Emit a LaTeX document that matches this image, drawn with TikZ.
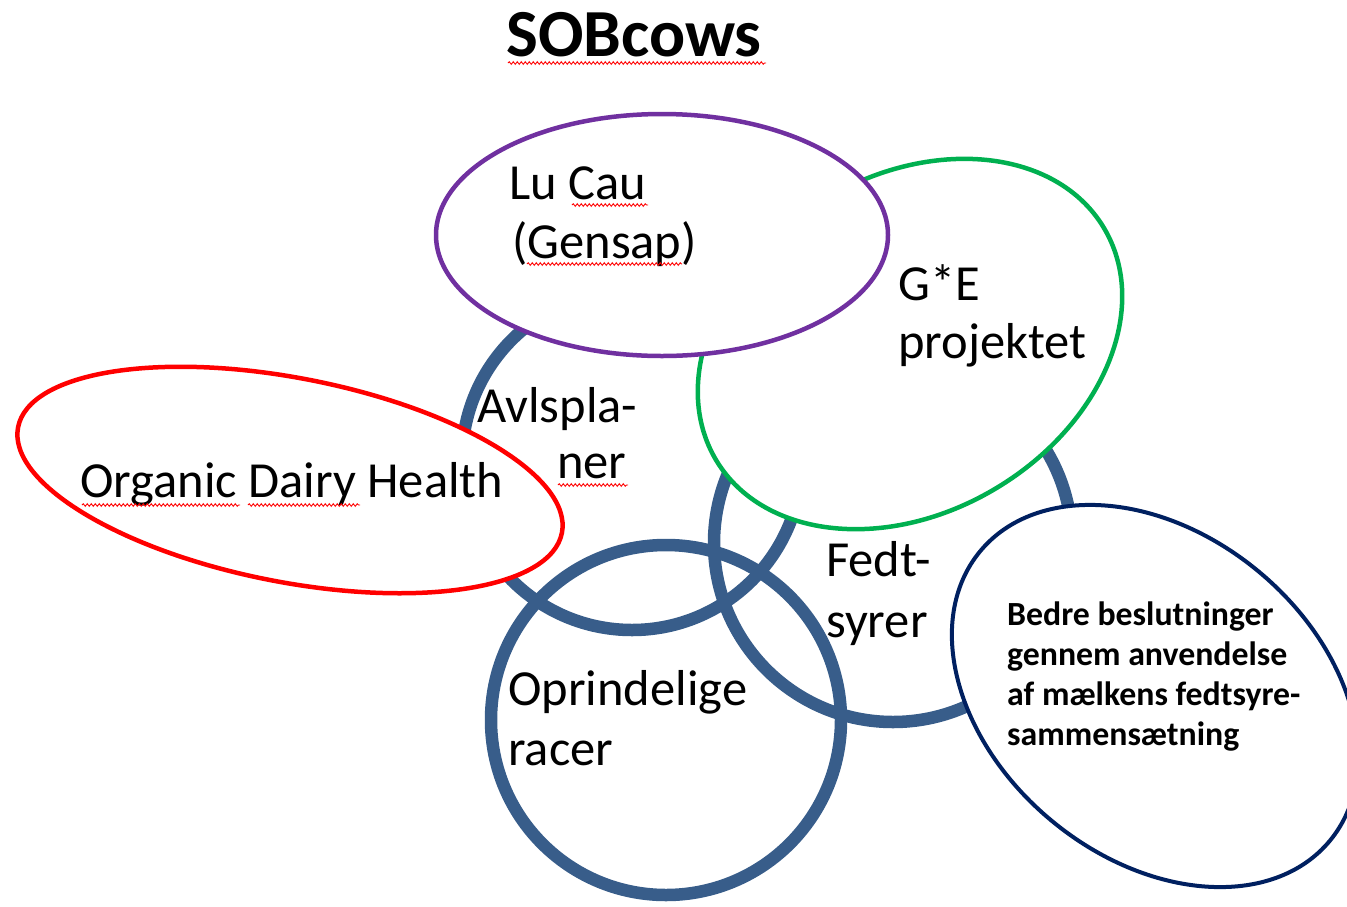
\documentclass[tikz,border=0pt]{standalone}
\usepackage{fontspec}
\setmainfont{Carlito}
\usetikzlibrary{decorations.pathmorphing}
\definecolor{ringblue}{HTML}{385D8A}
\definecolor{lupurple}{HTML}{7030A0}
\definecolor{gegreen}{HTML}{00B050}
\definecolor{odred}{HTML}{FF0000}
\definecolor{navyline}{HTML}{002060}
\begin{document}
\begin{tikzpicture}[x=1pt,y=-1pt,
  ring/.style={draw=ringblue,line width=12.5pt},
  oval/.style={fill=white,line width=4.5pt},
  lbl/.style={anchor=base west,inner sep=0pt,font=\fontsize{50.5}{61}\selectfont},
  boldlbl/.style={anchor=base west,inner sep=0pt,font=\bfseries\fontsize{33.8}{40}\selectfont},
  titlelbl/.style={anchor=base west,inner sep=0pt,font=\bfseries\fontsize{67.3}{80}\selectfont},
  spell/.style={draw=odred,line width=0.9pt,decorate,decoration={snake,amplitude=1.3pt,segment length=4pt}}]
\useasboundingbox (0,0) rectangle (1347,906);
% blue rings
\draw[ring] (632,460) circle [radius=170];
\draw[ring] (893,543) circle [radius=179];
\draw[ring] (666,720) circle [radius=175];
% ovals
\draw[oval,draw=gegreen,rotate around={31:(910,344)}] (910,344) ellipse [x radius=226,y radius=168];
\draw[oval,draw=lupurple] (662,235) ellipse [x radius=226,y radius=121];
\draw[oval,draw=odred,rotate around={-11:(290,480)}] (290,480) ellipse [x radius=277,y radius=102];
\draw[oval,draw=navyline,line width=4pt,rotate around={-39.6:(1155,696)}] (1155,696) ellipse [x radius=227,y radius=162];
% texts
\node[titlelbl] (title) at (506,56) {SOBcows};
\node[lbl] (lucau) at (509,199) {Lu Cau};
\node[lbl] (gensap) at (512,258) {(Gensap)};
\node[lbl] (ge) at (898,300) {G*E};
\node[lbl] (projektet) at (898,358) {projektet};
\node[lbl] (avls) at (477,422) {Avlspla-};
\node[lbl] (ner) at (557,478) {ner};
\node[lbl] (odh) at (80,497) {Organic Dairy Health};
\node[lbl] (fedt) at (826,576) {Fedt-};
\node[lbl] (syrer) at (826,637) {syrer};
\node[lbl] (oprind) at (508,705) {Oprindelige};
\node[lbl] (racer) at (508,765) {racer};
\node[boldlbl] (b1) at (1007,625) {Bedre beslutninger};
\node[boldlbl] (b2) at (1007,665) {gennem anvendelse};
\node[boldlbl] (b3) at (1007,705) {af mælkens fedtsyre-};
\node[boldlbl] (b4) at (1007,745) {sammensætning};
% spelling marks
\draw[spell] (508,63) -- (766,63);
\draw[spell] (572,205) -- (648,205);
\draw[spell] (527,264) -- (682,264);
\draw[spell] (558,485) -- (628,485);
\draw[spell] (82,505) -- (240,505);
\draw[spell] (248,505) -- (360,505);
\end{tikzpicture}
\end{document}
